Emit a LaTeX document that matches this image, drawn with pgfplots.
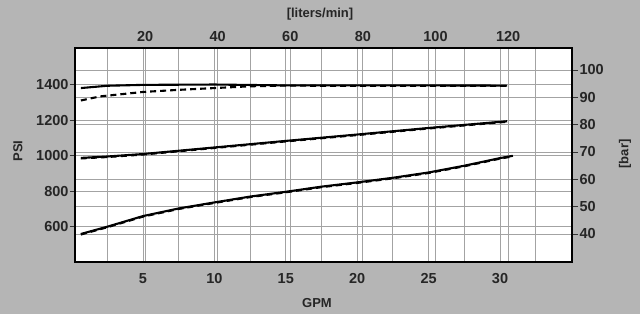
\documentclass[border=0pt]{standalone}
\usepackage{pgfplots}
\pgfplotsset{compat=1.18}
\usepackage{fontspec}
\setmainfont{Liberation Sans}
\definecolor{bgc}{gray}{0.71}
\definecolor{txt}{gray}{0.15}
\definecolor{grd}{gray}{0.64}
\pgfplotsset{
  common/.style={
    at={(75pt,52pt)}, anchor=south west, scale only axis,
    width=497pt, height=214pt,
    /pgf/number format/assume math mode=true,
    /pgf/number format/set thousands separator={},
    ticklabel style={font=\bfseries\fontsize{14.5}{14.5}\selectfont, text=txt},
    major grid style={draw=grd, line width=0.9pt},
    minor grid style={draw=grd, line width=0.9pt},
  }
}
\begin{document}
\begin{tikzpicture}[x=1pt,y=1pt]
\fill[bgc] (0,0) rectangle (640,314);
% top axis: liters/min
\begin{axis}[common,
  axis background/.style={fill=white},
  xmin=0.7, xmax=137.6, ymin=0, ymax=1,
  axis y line=none, axis x line*=top,
  axis line style={draw=none},
  xtick={20,40,...,120}, ytick=\empty,
  xmajorgrids,
  x tick style={draw=none},
  xticklabel style={yshift=3pt},
]
\end{axis}
% right axis: bar
\begin{axis}[common,
  xmin=0, xmax=1, ymin=29.75, ymax=108.05,
  axis x line=none, axis y line*=right,
  axis line style={draw=none},
  ytick={40,50,...,100}, xtick=\empty,
  ymajorgrids,
  tick align=outside, major tick length=6pt,
  y tick style={draw=black!80, line width=0.8pt},
  yticklabel style={xshift=-2pt},
]
\end{axis}
% main axis: GPM / PSI
\begin{axis}[common,
  xmin=0.24, xmax=35.04, ymin=401, ymax=1608,
  axis line style={line width=2pt, black},
  xtick={5,10,...,30}, minor xtick={2.5,7.5,...,32.5},
  ytick={600,800,...,1400},
  xtick pos=bottom, ytick pos=left,
  grid=both,
  tick align=outside, major tick length=5pt, minor tick length=0pt,
  x tick style={draw=none},
  y tick style={draw=black!80, line width=0.8pt},
  xticklabel style={yshift=-3pt},
  yticklabel style={xshift=2pt},
]
\addplot[black, line width=2.1pt] coordinates {
 (0.65,1382) (2.5,1395) (5,1400) (10,1402) (15,1397) (20,1397) (25,1397) (30.5,1396)};
\addplot[black, line width=2.1pt, dash pattern=on 6pt off 4pt] coordinates {
 (0.65,1312) (2,1335) (5,1360) (7.5,1372) (10,1382) (12.5,1392) (15,1396) (20,1394) (25,1394) (30.5,1394)};
\addplot[black, line width=2.1pt] coordinates {
 (0.65,988) (2.5,996) (5,1010) (10,1047) (15,1084) (20,1120) (25,1157) (30.5,1195)};
\addplot[black, line width=2.1pt, dash pattern=on 6pt off 4pt] coordinates {
 (0.65,985) (2.5,993) (5,1007) (10,1044) (15,1081) (20,1117) (25,1154) (30.5,1192)};
\addplot[black, line width=2.1pt] coordinates {
 (0.65,559) (2.5,600) (5,660) (7.5,703) (10,737) (12.5,770) (15,797) (17.5,826) (20,850) (22.5,876) (25,906) (27.5,944) (30,987) (30.9,1000)};
\addplot[black, line width=2.1pt, dash pattern=on 6pt off 4pt] coordinates {
 (0.65,556) (2.5,597) (5,657) (7.5,700) (10,734) (12.5,767) (15,794) (17.5,823) (20,847) (22.5,873) (25,903) (27.5,941) (30,984) (30.9,997)};
\end{axis}
\begin{scope}[font=\bfseries\fontsize{13}{13}\selectfont, text=txt]
\node[rotate=90] at (18,163) {PSI};
\node at (317,11) {GPM};
\node at (320,300) {[liters/min]};
\node[rotate=90] at (625,160) {[bar]};
\end{scope}
\end{tikzpicture}
\end{document}
